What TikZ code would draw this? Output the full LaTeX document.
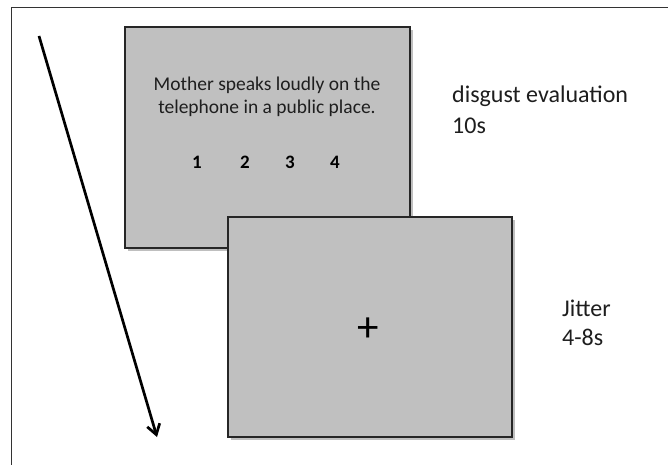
\documentclass[tikz,border=0pt]{standalone}
\usepackage{fontspec}
\setmainfont{Carlito}
\usetikzlibrary{arrows.meta}
\definecolor{screen}{HTML}{C0C0C0}
\definecolor{ink}{HTML}{1E1E1E}
\begin{document}
\begin{tikzpicture}[x=1pt,y=-1pt,
  screenbox/.style={draw=black!85, line width=1.2pt, fill=screen, minimum width=#1, inner sep=0pt, outer sep=0pt},
  txt/.style={text=ink, font=\fontsize{19.5}{22}\selectfont, inner sep=0pt, anchor=base},
  lbl/.style={text=ink, font=\fontsize{24}{28}\selectfont, inner sep=0pt, anchor=base west},
  num/.style={text=black, font=\fontsize{19}{22}\selectfont\bfseries, inner sep=0pt, anchor=base}]
\useasboundingbox (0,0) rectangle (668,465);
\fill[white] (0,0) rectangle (668,465);
\draw[black!80, line width=1pt] (668,8) -- (11,8) -- (11,465);
% screens
\fill[black!25] (128,30) rectangle (413,251);
\node[screenbox=285pt, minimum height=221pt] (s1) at (267.5,137.5) {};
\fill[black!25] (231,220) rectangle (515,440);
\node[screenbox=284pt, minimum height=220pt] (s2) at (370,327) {};
% texts in screen 1
\node[txt] (q1) at (267,90.5) {Mother speaks loudly on the};
\node[txt] (q2) at (267,114) {telephone in a public place.};
\node[num] (n1) at (197,168) {1};
\node[num] (n2) at (245,168) {2};
\node[num] (n3) at (290,168) {3};
\node[num] (n4) at (335,168) {4};
% fixation
\node[text=black, font=\fontsize{43}{43}\selectfont, inner sep=0pt] (fix) at (368,330) {+};
% labels
\node[lbl] (l1a) at (452,103) {disgust evaluation};
\node[lbl] (l1b) at (452,134) {10s};
\node[lbl] (l2a) at (562,316.5) {Jitter};
\node[lbl] (l2b) at (562,345) {4-8s};
% time arrow
\coordinate (a0) at (39,36);
\coordinate (a1) at (157,437);
\draw[line width=2.7pt, -{Straight Barb[length=10pt,width=13pt,line width=2.7pt]}] (a0) -- (a1);
\end{tikzpicture}
\end{document}
